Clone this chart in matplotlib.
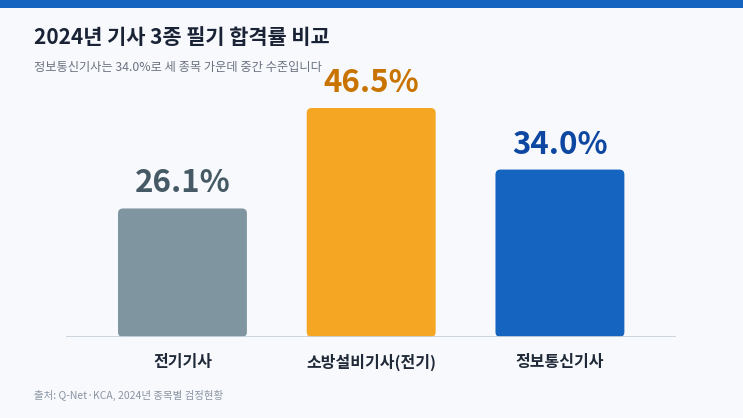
import matplotlib.pyplot as plt
from matplotlib.patches import FancyBboxPatch, Rectangle

plt.rcParams['font.family'] = ['Noto Sans CJK KR', 'DejaVu Sans']

categories = ['전기기사', '소방설비기사(전기)', '정보통신기사']
rates = [26.1, 46.5, 34.0]
labels = ['26.1%', '46.5%', '34.0%']
bar_colors = ['#7f96a0', '#f5a623', '#1565c0']
text_colors = ['#455a64', '#c97300', '#0d47a1']

title = '2024년 기사 3종 필기 합격률 비교'
subtitle = '정보통신기사는 34.0%로 세 종목 가운데 중간 수준입니다'
source = '출처: Q-Net·KCA, 2024년 종목별 검정현황'

W, H = 743, 418
fig = plt.figure(figsize=(W / 100, H / 100), dpi=100)
fig.patch.set_facecolor('#f7f9fc')

# top band
fig.patches.append(Rectangle((0, 1 - 8 / H), 1, 8 / H, transform=fig.transFigure,
                             facecolor='#1565c0', edgecolor='none'))

# axes: baseline at y=337px, top (46.5) at y=108px, x from 66 to 676px
ax = fig.add_axes([66 / W, (H - 337) / H, 610 / W, 229 / H])
ax.set_facecolor('none')
ax.set_ylim(0, 46.5)
ax.set_xlim(-0.617, 2.615)
for s in ax.spines.values():
    s.set_visible(False)
ax.set_xticks([])
ax.set_yticks([])

width = 0.683
px_x = 188.75  # px per x unit
px_y = 229 / 46.5  # px per y unit
r = 5 / px_x
for i, (v, c) in enumerate(zip(rates, bar_colors)):
    p = FancyBboxPatch((i - width / 2, 0), width, v,
                       boxstyle=f'round,pad=0,rounding_size={r}',
                       mutation_aspect=px_x / px_y,
                       facecolor=c, edgecolor='none', zorder=2)
    ax.add_patch(p)
    ax.annotate(labels[i], (i, v), xytext=(0, 9), textcoords='offset pixels',
                ha='center', va='bottom', fontsize=22.5, fontweight='bold',
                color=text_colors[i], zorder=5, annotation_clip=False)
    ax.text(i, -25 / px_y, categories[i], ha='center', va='center', fontsize=11.5,
            fontweight='bold', color='#1f2937', clip_on=False)

ax.axhline(0, color='#c8d1db', lw=2, zorder=3)

fig.text(34 / W, 1 - 38 / H, title, ha='left', va='center', fontsize=15,
         fontweight='bold', color='#1a2236')
fig.text(34 / W, 1 - 68 / H, subtitle, ha='left', va='center', fontsize=8.8,
         color='#6b7280')
fig.text(34 / W, 1 - 395 / H, source, ha='left', va='center', fontsize=7.5,
         color='#8a94a3')

fig.savefig('out.png', dpi=100, facecolor=fig.get_facecolor())
